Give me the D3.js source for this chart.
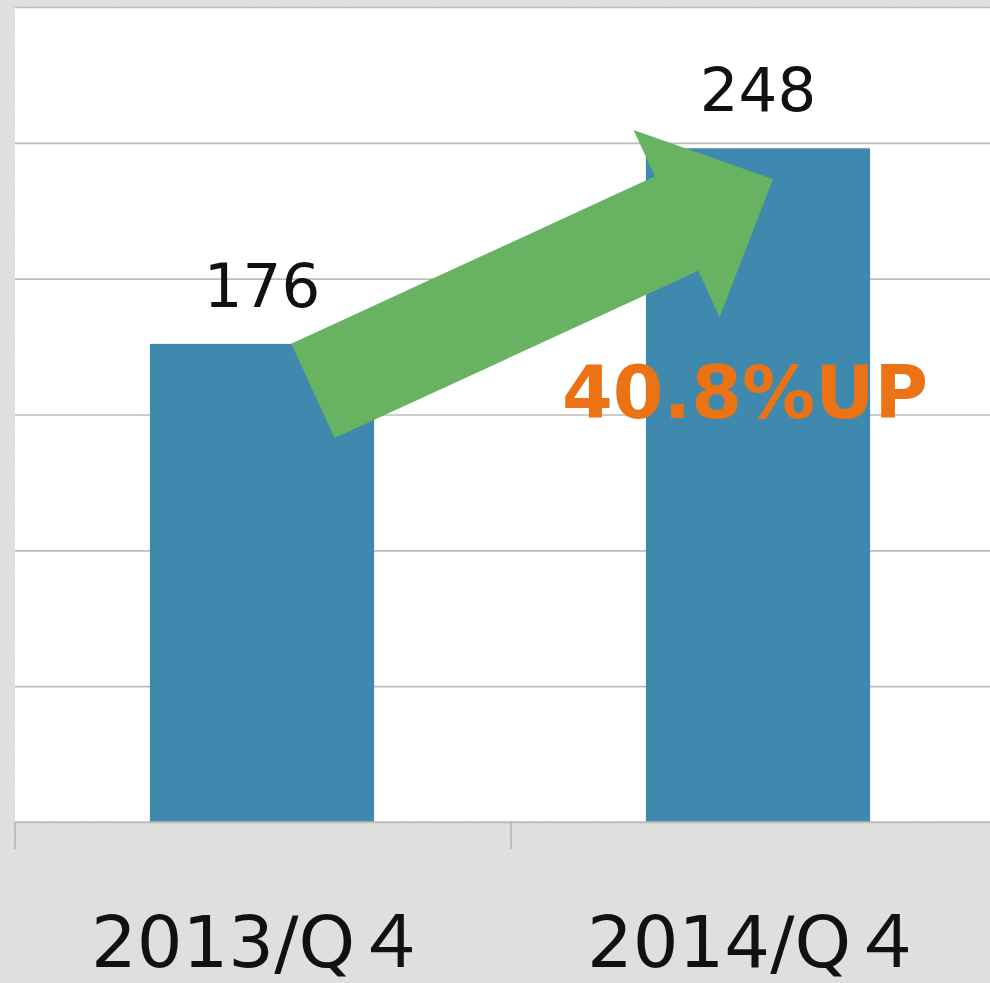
<!DOCTYPE html>
<html>
<head>
<meta charset="utf-8">
<script src="https://cdn.jsdelivr.net/npm/d3@7"></script>
<style>
  html, body { margin: 0; padding: 0; background: #e2e2e2; }
  svg { display: block; }
</style>
</head>
<body>
<svg id="chart" width="990" height="983"></svg>
<script>
// ---- data ----
const categories = ["2013/Q４", "2014/Q４"];
const values = [176, 248];
const yTicks = [0, 50, 100, 150, 200, 250, 300];
const annotationText = "40.8%UP";

// ---- setup ----
const W = 990, H = 983;
const svg = d3.select("#chart");
const font = "'DejaVu Sans', 'Noto Sans CJK JP', sans-serif";

// textured grey background
const defs = svg.append("defs");
const f = defs.append("filter").attr("id", "noise").attr("x", 0).attr("y", 0).attr("width", "100%").attr("height", "100%");
f.append("feTurbulence").attr("type", "fractalNoise").attr("baseFrequency", 0.8).attr("numOctaves", 2).attr("seed", 3).attr("result", "t");
f.append("feColorMatrix").attr("in", "t").attr("type", "matrix")
  .attr("values", "0 0 0 0 0.5  0 0 0 0 0.5  0 0 0 0 0.5  0 0 0 0.45 -0.05");
svg.append("rect").attr("width", W).attr("height", H).attr("fill", "#e2e2e2");
svg.append("rect").attr("width", W).attr("height", H).attr("filter", "url(#noise)").attr("opacity", 0.45);

// scales
const plotLeft = 15, plotRight = 1007, plotTop = 7, plotBottom = 822;
const x = d3.scaleBand().domain(categories).range([plotLeft, plotRight]).padding(0);
const y = d3.scaleLinear().domain([0, 300]).range([plotBottom, plotTop]);
const bw = x.bandwidth();
const barFrac = 0.452;
const barW = bw * barFrac;
const barX = c => x(c) + (bw - barW) / 2 - 1;

// plot area
svg.append("rect")
  .attr("x", plotLeft).attr("y", plotTop)
  .attr("width", plotRight - plotLeft).attr("height", plotBottom - plotTop)
  .attr("fill", "#ffffff");

// gridlines
const yAxis = d3.axisLeft(y).tickValues(yTicks).tickSize(-(plotRight - plotLeft)).tickFormat("");
const gy = svg.append("g").attr("transform", `translate(${plotLeft},0)`).call(yAxis);
gy.select(".domain").remove();
gy.selectAll(".tick line").attr("stroke", "#bdbdbd").attr("stroke-width", 1.6);

// bars
svg.append("g").selectAll("rect")
  .data(values)
  .join("rect")
  .attr("x", (d, i) => barX(categories[i]))
  .attr("y", d => y(d))
  .attr("width", barW)
  .attr("height", d => y(0) - y(d))
  .attr("fill", "#3f89ae");

// x axis line + ticks at band boundaries
svg.append("line")
  .attr("x1", plotLeft).attr("x2", plotRight)
  .attr("y1", y(0)).attr("y2", y(0))
  .attr("stroke", "#bdbdbd").attr("stroke-width", 1.6);
const boundaries = categories.map(c => x(c)).concat([x(categories[categories.length - 1]) + bw]);
svg.append("g").selectAll("line")
  .data(boundaries)
  .join("line")
  .attr("x1", d => d).attr("x2", d => d)
  .attr("y1", y(0)).attr("y2", y(0) + 27)
  .attr("stroke", "#b5b5b5").attr("stroke-width", 1.6);

// category labels
svg.append("g").selectAll("text")
  .data(categories)
  .join("text")
  .attr("x", (d, i) => x(d) + bw / 2 - 4)
  .attr("y", 967)
  .attr("text-anchor", "middle")
  .attr("font-family", font)
  .attr("font-size", 72)
  .attr("fill", "#111")
  .text(d => d);

// value labels
svg.append("g").selectAll("text")
  .data(values)
  .join("text")
  .attr("x", (d, i) => barX(categories[i]) + barW / 2)
  .attr("y", d => y(d) - 37)
  .attr("text-anchor", "middle")
  .attr("font-family", font)
  .attr("font-size", 61)
  .attr("fill", "#111")
  .text(d => d);

// green arrow annotation (from bar 1 top to bar 2 top)
const tail = [barX(categories[0]) + 163, y(values[0]) + 47];
const tip = [barX(categories[1]) + 127, y(values[1]) + 31];
const dx = tip[0] - tail[0], dy = tip[1] - tail[1];
const len = Math.hypot(dx, dy);
const u = [dx / len, dy / len];
const n = [-u[1], u[0]];
const shaftHW = 52, headLen = 106, headHW = 103;
const pt = (a, b) => [tail[0] + u[0] * a + n[0] * b, tail[1] + u[1] * a + n[1] * b];
const arrowPts = [
  pt(0, -shaftHW), pt(len - headLen, -shaftHW), pt(len - headLen, -headHW),
  pt(len, 0),
  pt(len - headLen, headHW), pt(len - headLen, shaftHW), pt(0, shaftHW)
];
svg.append("path")
  .attr("d", d3.line()(arrowPts) + "Z")
  .attr("fill", "#67b362");

// annotation text
svg.append("text")
  .attr("x", 745)
  .attr("y", 418)
  .attr("text-anchor", "middle")
  .attr("font-family", font)
  .attr("font-weight", "bold")
  .attr("font-size", 73)
  .attr("fill", "#ec7216")
  .text(annotationText);
</script>
</body>
</html>
